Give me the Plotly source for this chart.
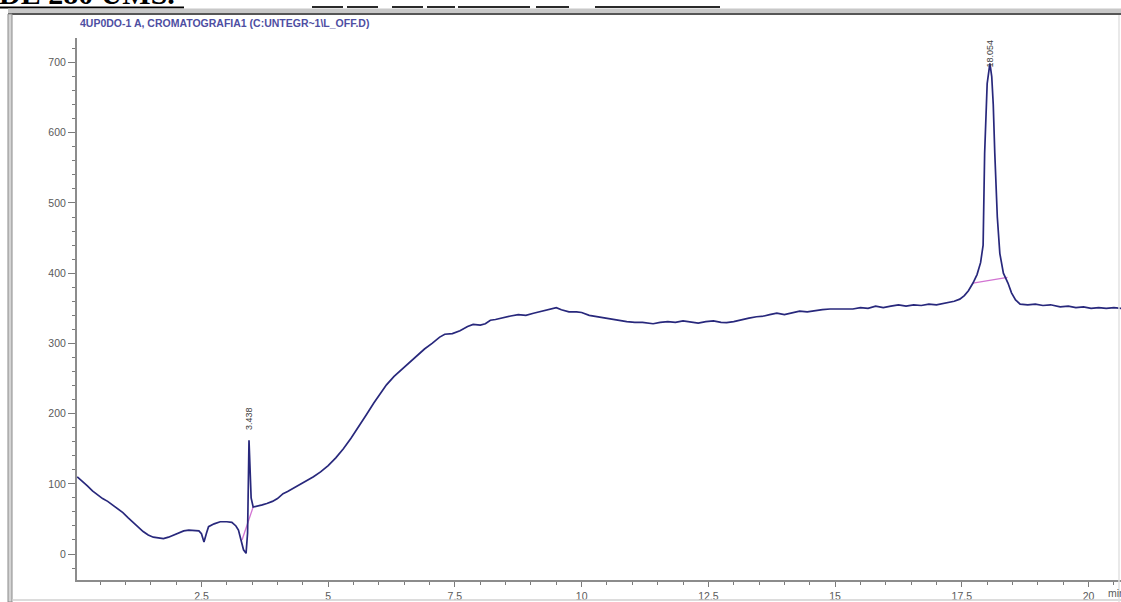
import plotly.graph_objects as go

# Chromatogram signal (time in min, detector response)
time_min = [
    0.05, 0.15, 0.25, 0.35, 0.45, 0.55, 0.65, 0.75, 0.85, 0.95,
    1.05, 1.15, 1.25, 1.35, 1.45, 1.55, 1.65, 1.75, 1.85, 1.95,
    2.05, 2.15, 2.25, 2.35, 2.45, 2.50, 2.55, 2.60, 2.64, 2.75,
    2.87, 3.00, 3.10, 3.18, 3.23, 3.28, 3.33, 3.38, 3.41, 3.438,
    3.46, 3.48, 3.52, 3.60, 3.70, 3.79, 3.90, 4.00, 4.11, 4.20,
    4.30, 4.44, 4.55, 4.71, 4.85, 5.00, 5.15, 5.30, 5.45, 5.60,
    5.75, 5.90, 6.05, 6.15, 6.30, 6.45, 6.60, 6.75, 6.90, 7.05,
    7.20, 7.30, 7.45, 7.60, 7.75, 7.86, 8.00, 8.10, 8.20, 8.30,
    8.45, 8.60, 8.75, 8.90, 9.05, 9.20, 9.35, 9.50, 9.60, 9.75,
    9.90, 10.00, 10.15, 10.30, 10.45, 10.60, 10.75, 10.89, 11.05, 11.20,
    11.41, 11.55, 11.70, 11.85, 12.00, 12.15, 12.30, 12.45, 12.60, 12.75,
    12.86, 13.00, 13.15, 13.30, 13.45, 13.60, 13.71, 13.85, 14.00, 14.15,
    14.30, 14.45, 14.60, 14.75, 14.90, 15.05, 15.20, 15.35, 15.50, 15.65,
    15.80, 15.95, 16.10, 16.25, 16.40, 16.55, 16.70, 16.85, 17.00, 17.07,
    17.20, 17.35, 17.46, 17.55, 17.63, 17.72, 17.80, 17.87, 17.92, 17.95,
    18.00, 18.054, 18.09, 18.12, 18.15, 18.20, 18.25, 18.32, 18.41, 18.48,
    18.56, 18.65, 18.80, 18.95, 19.10, 19.25, 19.44, 19.60, 19.75, 19.90,
    20.05, 20.20, 20.35, 20.50, 20.64,
]
signal = [
    110, 104, 97, 90, 84, 79, 75, 70, 65, 59,
    52, 45, 38, 32, 27, 24, 23, 22, 24, 27,
    31, 33, 34, 34, 33, 29, 17, 30, 39, 43,
    46, 46, 45, 40, 34, 20, 6, 1, 30, 162,
    120, 80, 67, 68, 70, 72, 75, 79, 86, 89,
    93, 98, 103, 110, 117, 126, 137, 150, 165, 181,
    198, 215, 231, 241, 253, 263, 273, 282, 292, 300,
    309, 313, 314, 318, 324, 327, 326, 328, 333, 334,
    337, 339, 341, 340, 343, 346, 349, 351, 348, 345,
    345, 344, 340, 338, 336, 335, 333, 331, 330, 330,
    328, 330, 331, 330, 332, 331, 329, 331, 332, 330,
    329.5, 331, 334, 336, 338, 339, 341, 343, 341, 344,
    346, 345, 347, 348, 349, 349, 350, 349, 351, 350,
    353, 351, 353, 355, 353, 355, 354, 356, 355, 356,
    358, 360, 363, 368, 375, 386, 398, 415, 440, 571,
    670, 699, 680, 640, 571, 480, 428, 400, 386, 372,
    362, 356, 355, 356, 354, 355, 352, 353, 351, 352,
    350, 351, 350, 351, 350,
]

# Integration baselines drawn under the two labelled peaks
baseline1_time = [3.30, 3.52]
baseline1_signal = [20, 67]
baseline2_time = [17.72, 18.40]
baseline2_signal = [386, 394]

# Retention-time labels
peak_times = [3.438, 18.054]
peak_label_y = [173, 690]
peak_labels = ["3.438", "18.054"]

# Axis ticks
x_tick_vals = [2.5, 5, 7.5, 10, 12.5, 15, 17.5, 20]
x_tick_text = ["2.5", "5", "7.5", "10", "12.5", "15", "17.5", "20"]
y_tick_vals = [0, 100, 200, 300, 400, 500, 600, 700]

W, H = 1121, 602


def px(x):
    return x / W


def py(y):
    return 1 - y / H


fig = go.Figure()

fig.add_trace(go.Scatter(
    x=baseline1_time, y=baseline1_signal, mode="lines",
    line=dict(color="#d274d2", width=1.3), hoverinfo="skip", showlegend=False,
))
fig.add_trace(go.Scatter(
    x=baseline2_time, y=baseline2_signal, mode="lines",
    line=dict(color="#d274d2", width=1.3), hoverinfo="skip", showlegend=False,
))
fig.add_trace(go.Scatter(
    x=time_min, y=signal, mode="lines",
    line=dict(color="#28287c", width=1.7), showlegend=False,
))

tick_font = dict(family="Liberation Sans, Arial, sans-serif", size=10.5, color="#5a5a5a")

fig.update_xaxes(
    domain=[px(77), 1],
    range=[0.045, 20.64],
    tickmode="array", tickvals=x_tick_vals, ticktext=x_tick_text,
    ticks="outside", ticklen=5, tickwidth=1, tickcolor="#7a7a7a",
    minor=dict(dtick=0.5, tick0=0, ticks="outside", ticklen=3, tickcolor="#7a7a7a", showgrid=False),
    showline=True, linecolor="#8c8c8c", linewidth=2,
    showgrid=False, zeroline=False,
    tickfont=tick_font,
)
fig.update_yaxes(
    domain=[py(580), py(38)],
    range=[-37, 735],
    tickmode="array", tickvals=y_tick_vals,
    ticks="outside", ticklen=7, tickwidth=1, tickcolor="#7a7a7a",
    minor=dict(dtick=20, tick0=0, ticks="outside", ticklen=3, tickcolor="#7a7a7a", showgrid=False),
    showline=True, linecolor="#8c8c8c", linewidth=2,
    showgrid=False, zeroline=False,
    tickfont=tick_font,
)

annotations = []
for t, yv, lab in zip(peak_times, peak_label_y, peak_labels):
    annotations.append(dict(
        x=t, y=yv, xref="x", yref="y", text=lab, showarrow=False,
        textangle=-90, xanchor="center", yanchor="bottom",
        font=dict(family="Liberation Sans, Arial, sans-serif", size=9, color="#3c3c3c"),
    ))

# Signal title inside the plot frame
annotations.append(dict(
    x=px(78), y=py(23), xref="paper", yref="paper", xanchor="left", yanchor="middle",
    text="<b>4UP0DO-1 A, CROMATOGRAFIA1 (C:UNTEGR~1\\L_OFF.D)</b>", showarrow=False,
    font=dict(family="Liberation Sans, Arial, sans-serif", size=10.5, color="#4e4ea2"),
))
# Unit label at the end of the time axis
annotations.append(dict(
    x=px(1106), y=py(593), xref="paper", yref="paper", xanchor="left", yanchor="middle",
    text="min", showarrow=False, font=tick_font,
))
# Document heading above the frame
annotations.append(dict(
    x=px(-3), y=py(12), xref="paper", yref="paper", xanchor="left", yanchor="bottom",
    text="<b>DE 280 UMS.</b>", showarrow=False,
    font=dict(family="Liberation Serif, Times New Roman, serif", size=30, color="#000000"),
))

shapes = [
    # heading underline
    dict(type="line", xref="paper", yref="paper", x0=px(0), x1=px(184), y0=py(7.5), y1=py(7.5),
         line=dict(color="#000000", width=2)),
    # frame top band and edge
    dict(type="rect", xref="paper", yref="paper", x0=px(8), x1=px(1121), y0=py(13), y1=py(8.5),
         fillcolor="#c8c8c8", line=dict(width=0)),
    dict(type="line", xref="paper", yref="paper", x0=px(8), x1=px(1121), y0=py(14), y1=py(14),
         line=dict(color="#1e1e1e", width=1.5)),
    # frame left edge
    dict(type="rect", xref="paper", yref="paper", x0=px(8), x1=px(12), y0=py(602), y1=py(14),
         fillcolor="#d4d4d4", line=dict(color="#8a8a8a", width=1)),
    # frame bottom and right edges
    dict(type="line", xref="paper", yref="paper", x0=px(12), x1=px(1121), y0=py(600), y1=py(600),
         line=dict(color="#d0d0d0", width=1.5)),
    dict(type="line", xref="paper", yref="paper", x0=px(1119), x1=px(1119), y0=py(15), y1=py(602),
         line=dict(color="#e2e2e2", width=1.5)),
]
# blank-field underlines along the top of the page
for a, b in [(312, 343), (347, 378), (392, 423), (427, 455), (458, 530), (536, 569), (595, 720)]:
    shapes.append(dict(type="line", xref="paper", yref="paper", x0=px(a), x1=px(b),
                       y0=py(7), y1=py(7), line=dict(color="#2a2a2a", width=2)))

fig.update_layout(
    width=W, height=H, autosize=False,
    margin=dict(l=0, r=0, t=0, b=0),
    paper_bgcolor="white", plot_bgcolor="white",
    annotations=annotations, shapes=shapes,
)

fig.write_html("out.html")
